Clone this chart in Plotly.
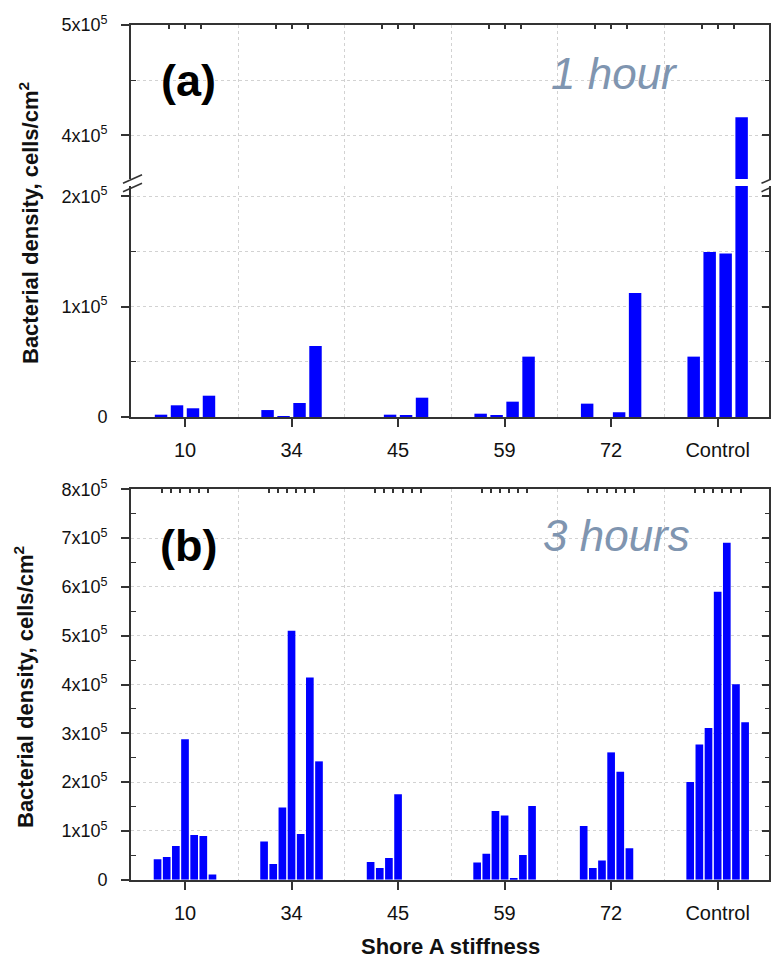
import plotly.graph_objects as go

# ---------------- data ----------------
categories = ["10", "34", "45", "59", "72", "Control"]

# (a) 1 hour: four replicates per material
hour1 = [
    [2100, 10600, 7900, 19300],
    [6300, 900, 12700, 64300],
    [0, 2100, 1200, 17500],
    [3000, 1300, 13900, 54700],
    [12100, 0, 4300, 112400],
    [54700, 149500, 148100, 416300],
]

# (b) 3 hours: seven replicates per material
hour3 = [
    [41700, 46400, 69000, 288000, 91500, 89500, 10900],
    [78500, 32100, 148200, 510200, 93600, 414600, 242500],
    [36200, 23900, 44400, 174900, 0, 0, 0],
    [35500, 53300, 140700, 131800, 3400, 50500, 151000],
    [110000, 23900, 39600, 260900, 221300, 64200, 0],
    [200100, 277300, 310800, 590200, 690600, 400300, 322400],
]

a_low_ticks = [0, 100000, 200000]
a_low_text = ["0", "1x10<sup>5</sup>", "2x10<sup>5</sup>"]
a_low_minor = [50000, 150000]
a_up_ticks = [400000, 500000]
a_up_text = ["4x10<sup>5</sup>", "5x10<sup>5</sup>"]
a_up_minor = [450000]
b_ticks = [i * 100000 for i in range(9)]
b_text = ["0"] + ["%dx10<sup>5</sup>" % i for i in range(1, 9)]
b_minor = [i * 100000 + 50000 for i in range(8)]

# ---------------- geometry ----------------
W, H = 771, 959  # figure size


def px(p):
    return p / W


def py(p):
    return 1 - p / H


X_RANGE = [-0.507, 5.482]
X_DOMAIN = [px(131), px(769)]
A_LOW_DOM = [py(417), py(186)]
A_UP_DOM = [py(179), py(25)]
B_DOM = [py(879.7), py(489.3)]
A_LOW_RANGE = [0, 209300]
A_UP_RANGE = [360400, 500000]
B_RANGE = [0, 800000]

A_STEP, A_WIDTH = 0.150, 0.117
B_STEP, B_WIDTH = 0.0859, 0.072


def positions(groups, step):
    xs, ys = [], []
    for gi, vals in enumerate(groups):
        n = len(vals)
        for k, v in enumerate(vals):
            xs.append(gi + (k - (n - 1) / 2) * step)
            ys.append(v)
    return xs, ys


xa, ya = positions(hour1, A_STEP)
xb, yb = positions(hour3, B_STEP)

# top-axis minor tick positions (between bars)
top_a = [gi + k * A_STEP for gi in range(len(categories)) for k in (-1, 0, 1)]
top_b = [gi + (k - 2.5) * B_STEP for gi in range(len(categories)) for k in range(6)]

BLUE = "#0000FF"
AX = "#333333"
GRID = "#d2d2d2"
FONT = "Arial, Liberation Sans, Helvetica, sans-serif"
SLATE = "#7F95B0"

fig = go.Figure()
for yax in ("y", "y2"):
    fig.add_trace(go.Bar(x=xa, y=ya, width=A_WIDTH, xaxis="x", yaxis=yax,
                         marker=dict(color=BLUE, line=dict(width=0)),
                         hoverinfo="x+y"))
fig.add_trace(go.Bar(x=xb, y=yb, width=B_WIDTH, xaxis="x2", yaxis="y3",
                     marker=dict(color=BLUE, line=dict(width=0)),
                     hoverinfo="x+y"))
# empty helper traces so that the overlay (frame) axes are drawn
for xa_id, ya_id in (("x3", "y2"), ("x4", "y3"), ("x", "y4"), ("x", "y5"), ("x2", "y6")):
    fig.add_trace(go.Scatter(x=[None], y=[None], xaxis=xa_id, yaxis=ya_id, mode="markers",
                             showlegend=False, hoverinfo="skip"))

xbase = dict(range=X_RANGE, domain=X_DOMAIN, showline=True, linecolor=AX, linewidth=1.6,
             tickmode="array", tickvals=list(range(len(categories))), ticktext=categories,
             ticks="outside", ticklen=8, tickwidth=1.5, tickcolor=AX,
             tickfont=dict(family=FONT, size=20, color="#111"), ticklabelstandoff=6,
             showgrid=False, zeroline=False, mirror=False, automargin=False,
             minor=dict(tickmode="array", tickvals=[i + 0.5 for i in range(len(categories) - 1)],
                        ticks="", showgrid=True, gridcolor=GRID, gridwidth=1, griddash="dot"))


def ybase(rng, dom, anchor, tv, tt, minor, minor_grid):
    return dict(range=rng, domain=dom, anchor=anchor, showline=True, linecolor=AX, linewidth=1.6,
                mirror=True,
                tickmode="array", tickvals=tv, ticktext=tt, ticks="outside", ticklen=8,
                tickwidth=1.5, tickcolor=AX, tickfont=dict(family=FONT, size=18, color="#111"),
                ticklabelstandoff=10, showgrid=True, gridcolor=GRID, gridwidth=1, griddash="dot",
                zeroline=False, automargin=False,
                minor=dict(tickmode="array", tickvals=minor, ticks="inside", ticklen=5,
                           tickwidth=1.2, tickcolor=AX, showgrid=minor_grid, gridcolor=GRID,
                           gridwidth=1, griddash="dot"))


def yright(over, rng, anchor, tv, minor):
    return dict(overlaying=over, side="right", anchor=anchor, range=rng, showline=True,
                linecolor=AX, linewidth=1.6, tickmode="array", tickvals=tv, ticks="inside",
                ticklen=7, tickwidth=1.5, tickcolor=AX, showticklabels=False, showgrid=False,
                zeroline=False, automargin=False,
                minor=dict(tickmode="array", tickvals=minor, ticks="inside", ticklen=4,
                           tickwidth=1.2, tickcolor=AX, showgrid=False))


def xtop(over, anchor, tv):
    return dict(overlaying=over, side="top", anchor=anchor, range=X_RANGE, showline=True,
                linecolor=AX, linewidth=1.6, tickmode="array", tickvals=tv, ticks="inside",
                ticklen=4, tickwidth=1.5, tickcolor=AX, showticklabels=False, showgrid=False,
                zeroline=False, automargin=False)


fig.update_layout(
    width=W, height=H, margin=dict(l=0, r=0, t=0, b=0, pad=0, autoexpand=False),
    paper_bgcolor="white", plot_bgcolor="white", showlegend=False, barmode="overlay",
    xaxis=dict(xbase, anchor="y"),
    xaxis2=dict(xbase, anchor="y3"),
    xaxis3=xtop("x", "y2", top_a),
    xaxis4=xtop("x2", "y3", top_b),
    yaxis=ybase(A_LOW_RANGE, A_LOW_DOM, "x", a_low_ticks, a_low_text, a_low_minor, True),
    yaxis2=ybase(A_UP_RANGE, A_UP_DOM, "x", a_up_ticks, a_up_text, a_up_minor, True),
    yaxis3=ybase(B_RANGE, B_DOM, "x2", b_ticks, b_text, b_minor, False),
    yaxis4=yright("y", A_LOW_RANGE, "x", a_low_ticks, a_low_minor),
    yaxis5=yright("y2", A_UP_RANGE, "x", a_up_ticks, a_up_minor),
    yaxis6=yright("y3", B_RANGE, "x2", b_ticks, b_minor),
)

# axis-break marks
for x0 in (123, 761.5):
    for y0 in (183.3, 191.7):
        fig.add_shape(type="line", xref="paper", yref="paper",
                      x0=px(x0), y0=py(y0), x1=px(x0 + 19), y1=py(y0 - 8.5),
                      line=dict(color=AX, width=1.6))

ann = [
    dict(text="<b>(a)</b>", x=188.5, y=80, size=45, color="#000"),
    dict(text="<b>(b)</b>", x=188.5, y=545, size=45, color="#000"),
    dict(text="<i>1 hour</i>", x=614.5, y=73, size=44, color=SLATE),
    dict(text="<i>3 hours</i>", x=616, y=535, size=44, color=SLATE),
]
for a in ann:
    fig.add_annotation(text=a["text"], x=px(a["x"]), y=py(a["y"]), xref="paper", yref="paper",
                       showarrow=False, xanchor="center", yanchor="middle",
                       font=dict(family=FONT, size=a["size"], color=a["color"]))

ytitle = "<b>Bacterial density, cells/cm<sup>2</sup></b>"
fig.add_annotation(text=ytitle, x=px(28.5), y=py(223.5), xref="paper", yref="paper",
                   showarrow=False, textangle=-90, xanchor="center", yanchor="middle",
                   font=dict(family=FONT, size=22, color="#111"))
fig.add_annotation(text=ytitle, x=px(23.5), y=py(687.5), xref="paper", yref="paper",
                   showarrow=False, textangle=-90, xanchor="center", yanchor="middle",
                   font=dict(family=FONT, size=22, color="#111"))
fig.add_annotation(text="<b>Shore A stiffness</b>", x=px(450), y=py(946), xref="paper",
                   yref="paper", showarrow=False, xanchor="center", yanchor="middle",
                   font=dict(family=FONT, size=22, color="#111"))

# remove the default page margin so the 771x959 figure fills the window exactly
fig.write_html("out.html", config={"displayModeBar": False},
               post_script="document.body.style.margin='0px';")
